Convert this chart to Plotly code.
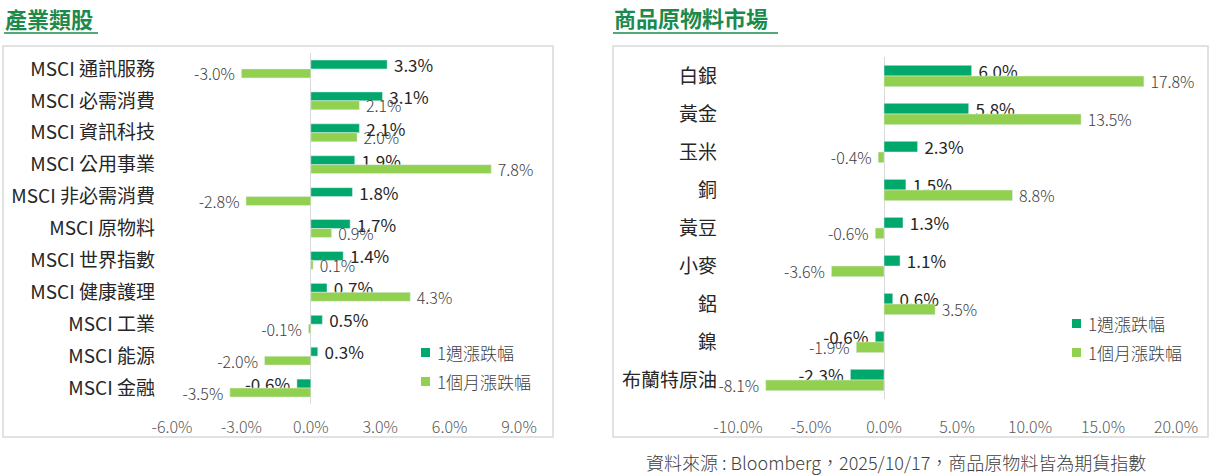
import plotly.graph_objects as go

# 產業類股
sector_names = ["MSCI 通訊服務", "MSCI 必需消費", "MSCI 資訊科技", "MSCI 公用事業",
                "MSCI 非必需消費", "MSCI 原物料", "MSCI 世界指數", "MSCI 健康護理",
                "MSCI 工業", "MSCI 能源", "MSCI 金融"]
sector_1w = [3.3, 3.1, 2.1, 1.9, 1.8, 1.7, 1.4, 0.7, 0.5, 0.3, -0.6]
sector_1m = [-3.0, 2.1, 2.0, 7.8, -2.8, 0.9, 0.1, 4.3, -0.1, -2.0, -3.5]
sector_ticks = [-6, -3, 0, 3, 6, 9]
sector_ticktext = ["-6.0%", "-3.0%", "0.0%", "3.0%", "6.0%", "9.0%"]

# 商品原物料市場
comm_names = ["白銀", "黃金", "玉米", "銅", "黃豆", "小麥", "鋁", "鎳", "布蘭特原油"]
comm_1w = [6.0, 5.8, 2.3, 1.5, 1.3, 1.1, 0.6, -0.6, -2.3]
comm_1m = [17.8, 13.5, -0.4, 8.8, -0.6, -3.6, 3.5, -1.9, -8.1]
comm_ticks = [-10, -5, 0, 5, 10, 15, 20]
comm_ticktext = ["-10.0%", "-5.0%", "0.0%", "5.0%", "10.0%", "15.0%", "20.0%"]

series_names = ["1週漲跌幅", "1個月漲跌幅"]

DARK = "#00A86B"
LIGHT = "#92D050"
TITLE_GREEN = "#1B8A4C"
FONT = "Noto Sans CJK TC"
W, H = 1211, 475


def px_x(v):
    return v / W


def px_y(v):
    return 1 - v / H


def label(v):
    # a little air between bar end and its label, like the original
    return f" {v:.1f}%" if v >= 0 else f"{v:.1f}% "


fig = go.Figure()


def add_pair(names, wk, mo, xa, ya):
    fig.add_trace(go.Bar(
        y=names, x=wk, orientation="h", name=series_names[0],
        marker_color=DARK, xaxis=xa, yaxis=ya, showlegend=False,
        text=[label(v) for v in wk], textposition="outside",
        textfont=dict(size=17, color="#262626", family=FONT),
        cliponaxis=False, constraintext="none",
    ))
    fig.add_trace(go.Bar(
        y=names, x=mo, orientation="h", name=series_names[1],
        marker_color=LIGHT, xaxis=xa, yaxis=ya, showlegend=False,
        text=[label(v) for v in mo], textposition="outside",
        textfont=dict(size=16, color="#404040", family=FONT, weight=300),
        cliponaxis=False, constraintext="none",
    ))


add_pair(sector_names, sector_1w, sector_1m, "x", "y")
add_pair(comm_names, comm_1w, comm_1m, "x2", "y2")

xcommon = dict(showgrid=False, zeroline=True, zerolinecolor="#D9D9D9",
               zerolinewidth=1, showline=False, ticks="", automargin=False,
               tickfont=dict(size=16, color="#595959", family=FONT, weight=300),
               tickmode="array", fixedrange=True)
ycommon = dict(showgrid=False, showline=False, ticks="", autorange="reversed",
               automargin=False, fixedrange=True,
               tickfont=dict(size=19, color="#262626", family=FONT),
               ticklabelstandoff=16)

fig.update_layout(
    width=W, height=H, autosize=False,
    margin=dict(l=0, r=0, t=0, b=0, pad=0),
    plot_bgcolor="white", paper_bgcolor="white",
    barmode="group", bargap=0.44, bargroupgap=0,
    showlegend=False,
    font=dict(family=FONT),
    xaxis=dict(xcommon, domain=[px_x(172), px_x(519)], range=[-6, 9],
               tickvals=sector_ticks, ticktext=sector_ticktext, anchor="y",
               ticklabelstandoff=12),
    yaxis=dict(ycommon, domain=[px_y(404), px_y(53)], anchor="x"),
    xaxis2=dict(xcommon, domain=[px_x(738), px_x(1176)], range=[-10, 20],
                tickvals=comm_ticks, ticktext=comm_ticktext, anchor="y2",
                ticklabelstandoff=17),
    yaxis2=dict(ycommon, domain=[px_y(399), px_y(57)], anchor="x2",
                ticklabelstandoff=20),
)

# frames and title underlines
for x0, x1 in [(3, 553), (613, 1208)]:
    fig.add_shape(type="rect", xref="paper", yref="paper",
                  x0=px_x(x0), x1=px_x(x1), y0=px_y(437), y1=px_y(46),
                  line=dict(color="#D9D9D9", width=1.5), layer="below")
for x0, x1 in [(4, 98), (613, 778)]:
    fig.add_shape(type="line", xref="paper", yref="paper",
                  x0=px_x(x0), x1=px_x(x1), y0=px_y(33), y1=px_y(33),
                  line=dict(color=TITLE_GREEN, width=1.5))

# legends (swatch + text) for both panels
for lx, ly in [(421, 352), (1072, 323)]:
    for i, (name, col) in enumerate(zip(series_names, [DARK, LIGHT])):
        yy = ly + i * 29
        fig.add_shape(type="rect", xref="paper", yref="paper",
                      x0=px_x(lx), x1=px_x(lx + 9), y0=px_y(yy + 5), y1=px_y(yy - 4),
                      fillcolor=col, line=dict(width=0))
        fig.add_annotation(text=name, xref="paper", yref="paper",
                           x=px_x(lx + 14), y=px_y(yy), xanchor="left", yanchor="middle",
                           showarrow=False,
                           font=dict(size=17, color="#404040", family=FONT, weight=300))

fig.add_annotation(text="<b>產業類股</b>", xref="paper", yref="paper",
                   x=px_x(3), y=px_y(18), xanchor="left", yanchor="middle",
                   showarrow=False, font=dict(size=22, color=TITLE_GREEN, family=FONT))
fig.add_annotation(text="<b>商品原物料市場</b>", xref="paper", yref="paper",
                   x=px_x(612), y=px_y(17), xanchor="left", yanchor="middle",
                   showarrow=False, font=dict(size=22, color=TITLE_GREEN, family=FONT))
fig.add_annotation(text="資料來源 : Bloomberg，2025/10/17，商品原物料皆為期貨指數",
                   xref="paper", yref="paper", x=px_x(896), y=px_y(462),
                   xanchor="center", yanchor="middle", showarrow=False,
                   font=dict(size=18, color="#404040", family=FONT, weight=300))

fig.write_html("out.html", config={"displayModeBar": False},
               post_script="document.body.style.margin='0';")
